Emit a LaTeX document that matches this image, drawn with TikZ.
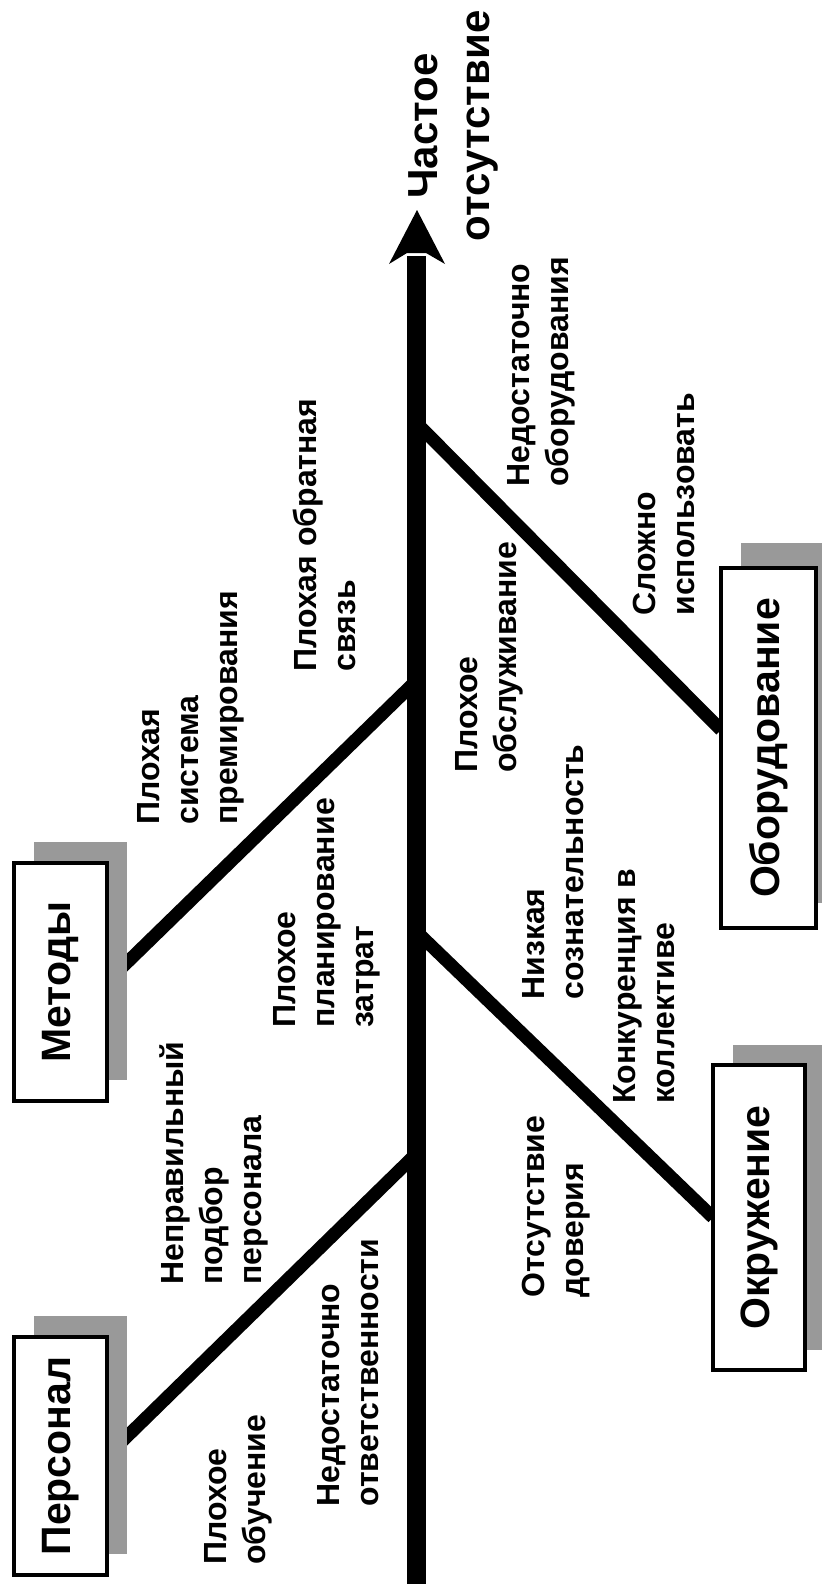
\documentclass[tikz,border=0pt]{standalone}
\usepackage{fontspec}
\setmainfont{Liberation Sans}
\usetikzlibrary{calc}
\definecolor{shadowgray}{RGB}{153,153,153}
\pgfdeclarelayer{back}
\pgfdeclarelayer{shade}
\pgfsetlayers{back,shade,main}
\begin{document}
\begin{tikzpicture}[x=0.5pt,y=-0.5pt,
  lbl/.style={rotate=90, anchor=north west, inner sep=0pt, align=left,
    font=\fontsize{16}{19.5}\selectfont\bfseries},
  boxnode/.style={draw, line width=2pt, fill=white, inner sep=0pt, outer sep=0pt,
    font=\fontsize{20.5}{24}\selectfont\bfseries},
  bone/.style={line width=6.5pt},
  shadowbox/.style={fill=shadowgray}
]
\useasboundingbox (0,0) rectangle (822,1584);

% boxes
\node[boxnode, minimum width=46.5pt, minimum height=119pt] (pers) at (60.5,1456) {\rotatebox{90}{Персонал}};
\node[boxnode, minimum width=46.5pt, minimum height=119pt] (meth) at (60.5,982) {\rotatebox{90}{Методы}};
\node[boxnode, minimum width=47.5pt, minimum height=180pt] (equip) at (768.5,748) {\rotatebox{90}{Оборудование}};
\node[boxnode, minimum width=46pt, minimum height=152.5pt] (env) at (759,1217.5) {\rotatebox{90}{Окружение}};

% shadows
\begin{pgfonlayer}{shade}
\fill[shadowbox] ($(pers.south west)+(20,-21)$) rectangle ($(pers.north east)+(20,-21)$);
\fill[shadowbox] ($(meth.south west)+(20,-21)$) rectangle ($(meth.north east)+(20,-21)$);
\fill[shadowbox] ($(equip.south west)+(20,-25)$) rectangle ($(equip.north east)+(20,-25)$);
\fill[shadowbox] ($(env.south west)+(20,-20)$) rectangle ($(env.north east)+(20,-20)$);
\end{pgfonlayer}

% spine and bones
\coordinate (sb) at (416.5,1584);
\coordinate (st) at (416.5,256);
\coordinate (j1) at (416.5,1153.5);
\coordinate (j2) at (416.5,680.5);
\coordinate (j3) at (416.5,423);
\coordinate (j4) at (416.5,931.6);
\begin{pgfonlayer}{back}
\draw[bone] (j1) -- (pers.east);
\draw[bone] (j2) -- (meth.east);
\draw[bone] (j3) -- ($(equip.west)+(0,-18)$);
\draw[bone] (j4) -- (env.west);
\draw[line width=9.5pt] (sb) -- (st);
\end{pgfonlayer}

% arrow head
\coordinate (tip) at (417,210);
\coordinate (wr) at (445,264);
\coordinate (nr) at (426,253);
\coordinate (nl) at (407,253);
\coordinate (wl) at (389,264);
\fill (tip) -- (wr) -- (nr) -- (nl) -- (wl) -- cycle;

% effect
\node[rotate=90, anchor=north, inner sep=0pt, align=center,
  font=\fontsize{21}{26}\selectfont\bfseries] (title) at (408,126) {Частое\\отсутствие};

% causes
\node[lbl] (c1) at (204,1565) {Плохое\\обучение};
\node[lbl] (c2) at (317,1507) {Недостаточно\\ответственности};
\node[lbl] (c3) at (159,1285) {Неправильный\\подбор\\персонала};
\node[lbl] (c4) at (273,1028) {Плохое\\планирование\\затрат};
\node[lbl] (c5) at (137,825) {Плохая\\система\\премирования};
\node[lbl] (c6) at (293,672) {Плохая обратная\\связь};
\node[lbl] (c7) at (507,487) {Недостаточно\\оборудования};
\node[lbl] (c8) at (633,616) {Сложно\\использовать};
\node[lbl] (c9) at (455,773) {Плохое\\обслуживание};
\node[lbl] (c10) at (522,1000) {Низкая\\сознательность};
\node[lbl] (c11) at (613,1104) {Конкуренция в\\коллективе};
\node[lbl] (c12) at (522,1298) {Отсутствие\\доверия};
\end{tikzpicture}
\end{document}
